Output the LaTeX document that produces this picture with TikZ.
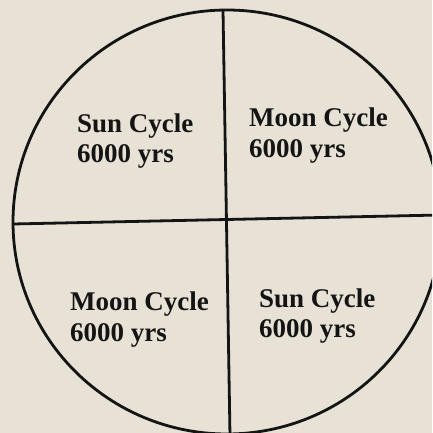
\documentclass[tikz,border=0pt]{standalone}
\usepackage{fontspec}
\setmainfont{Liberation Serif}
\begin{document}
\begin{tikzpicture}[x=1pt,y=-1pt,
  ink/.style={draw=black!92, line width=2.8pt},
  lbl/.style={anchor=base west, inner sep=0pt, text=black!92, font=\fontsize{27}{31}\selectfont\bfseries}]
\fill[fill={rgb,255:red,231;green,226;blue,213}] (0,0) rectangle (432,433);
\useasboundingbox (0,0) rectangle (432,433);
\begin{scope}
\clip (0,0) rectangle (432,433);
\draw[ink] (227,222) ellipse [x radius=214, y radius=212];
\coordinate (top) at (223,10);
\coordinate (bot) at (230,436);
\coordinate (lft) at (13,224);
\coordinate (rgt) at (440,215);
\draw[ink] (top) -- (bot);
\draw[ink] (lft) -- (rgt);
\end{scope}
\node[lbl] (s1a) at (77,132) {Sun Cycle};
\node[lbl] (s1b) at (77,162) {6000 yrs};
\node[lbl] (m1a) at (249,126) {Moon Cycle};
\node[lbl] (m1b) at (249,157) {6000 yrs};
\node[lbl] (m2a) at (70,310) {Moon Cycle};
\node[lbl] (m2b) at (70,341) {6000 yrs};
\node[lbl] (s2a) at (259,307) {Sun Cycle};
\node[lbl] (s2b) at (259,337) {6000 yrs};
\end{tikzpicture}
\end{document}
